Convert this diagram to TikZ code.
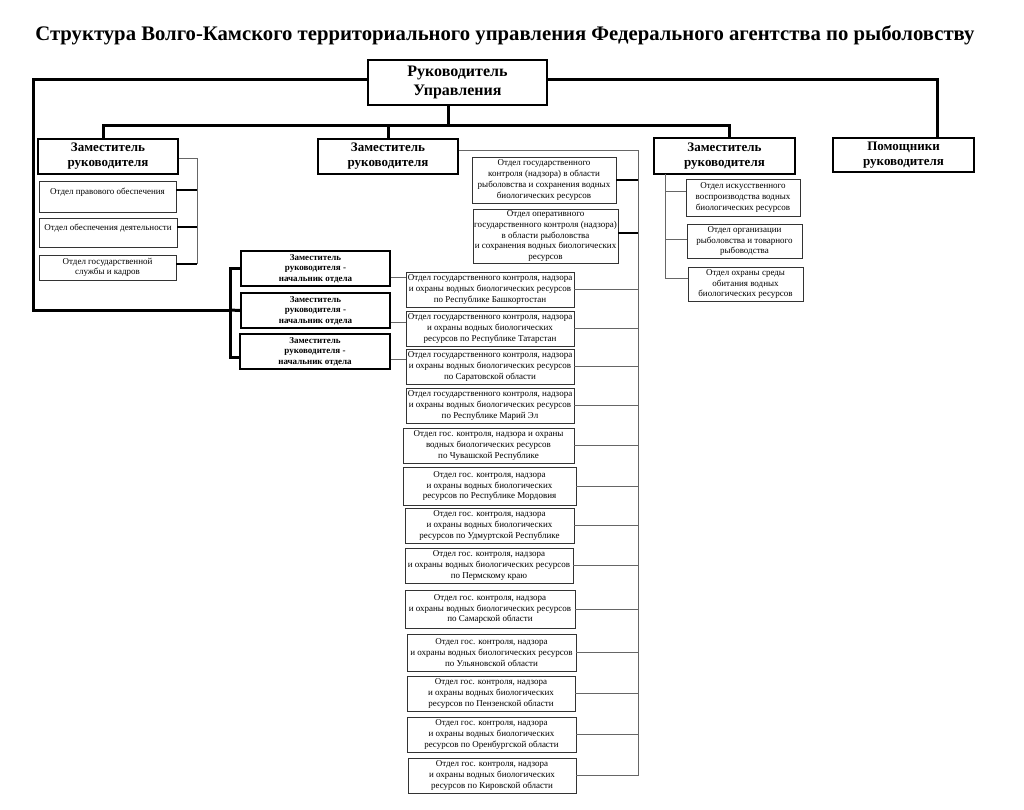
\documentclass[tikz,border=0pt]{standalone}
\usepackage{fontspec}
\setmainfont{Liberation Serif}
\tikzset{
  box/.style={draw, line width=1.8pt, align=center, inner sep=1pt},
  chief/.style={box, font=\bfseries\fontsize{16}{19}\selectfont},
  deputy/.style={box, font=\bfseries\fontsize{13}{15}\selectfont},
  headdep/.style={box, font=\bfseries\fontsize{9}{10.5}\selectfont},
  dept/.style={draw=black!80, line width=0.9pt, align=center, inner sep=1pt,
    font=\fontsize{9}{10.7}\selectfont},
  mainline/.style={line width=3pt},
  thinline/.style={draw=black!60, line width=0.9pt},
  stub/.style={line width=1.4pt}
}
\begin{document}
\begin{tikzpicture}[x=1pt,y=-1pt]
\useasboundingbox[fill=white] (0,0) rectangle (1024,809);
\node[font=\bfseries\fontsize{20.7}{23}\selectfont] (title) at (505,35)
  {Структура Волго-Камского территориального управления Федерального агентства по рыболовству};
% top level
\node[chief, minimum width=179pt, minimum height=45pt] (head) at (457.5,82.5) {Руководитель\\Управления};
\node[deputy, minimum width=140pt, minimum height=35pt] (dep1) at (108,156.5) {Заместитель\\руководителя};
\node[deputy, minimum width=140pt, minimum height=35pt] (dep2) at (388,156.5) {Заместитель\\руководителя};
\node[deputy, minimum width=141pt, minimum height=36pt] (dep3) at (724.5,156) {Заместитель\\руководителя};
\node[deputy, minimum width=141pt, minimum height=34pt] (help) at (903.5,155) {Помощники\\руководителя};
% left deputy
\node[dept, minimum width=137pt, minimum height=31pt] (legal) at (107.5,196.5) {Отдел правового обеспечения\\~};
\node[dept, minimum width=138pt, minimum height=29pt] (activity) at (108,232.5) {Отдел обеспечения деятельности\\~};
\node[dept, minimum width=137pt, minimum height=25pt] (staff) at (107.5,267.5) {Отдел государственной\\службы и кадров};
% heads of departments
\node[headdep, minimum width=149pt, minimum height=35pt] (nach1) at (315.5,268.5) {Заместитель\\руководителя -\\начальник отдела};
\node[headdep, minimum width=149pt, minimum height=35pt] (nach2) at (315.5,310.5) {Заместитель\\руководителя -\\начальник отдела};
\node[headdep, minimum width=150pt, minimum height=35pt] (nach3) at (315,351.5) {Заместитель\\руководителя -\\начальник отдела};
% middle deputy
\node[dept, minimum width=144pt, minimum height=46pt] (control) at (544,180) {Отдел государственного\\контроля (надзора) в области\\рыболовства и сохранения водных\\биологических ресурсов};
\node[dept, minimum width=145pt, minimum height=54pt] (operative) at (545.5,236) {Отдел оперативного\\государственного контроля (надзора)\\в области рыболовства\\и сохранения водных биологических\\ресурсов};
% right deputy
\node[dept, minimum width=114pt, minimum height=37pt] (repro) at (743,197.5) {Отдел искусственного\\воспроизводства водных\\биологических ресурсов};
\node[dept, minimum width=115pt, minimum height=34pt] (fishery) at (744.5,241) {Отдел организации\\рыболовства и товарного\\рыбоводства};
\node[dept, minimum width=115pt, minimum height=34pt] (habitat) at (745.5,284) {Отдел охраны среды\\обитания водных\\биологических ресурсов};
% regional departments
\node[dept, minimum width=168pt, minimum height=35pt] (bash) at (490,289.5) {Отдел государственного контроля, надзора\\и охраны водных биологических ресурсов\\по Республике Башкортостан};
\node[dept, minimum width=168pt, minimum height=35pt] (tatar) at (490,328.5) {Отдел государственного контроля, надзора\\и охраны водных биологических\\ресурсов по Республике Татарстан};
\node[dept, minimum width=168pt, minimum height=35pt] (saratov) at (490,366.5) {Отдел государственного контроля, надзора\\и охраны водных биологических ресурсов\\по Саратовской области};
\node[dept, minimum width=168pt, minimum height=35pt] (mari) at (490,405.5) {Отдел государственного контроля, надзора\\и охраны водных биологических ресурсов\\по Республике Марий Эл};
\node[dept, minimum width=171pt, minimum height=35pt] (chuv) at (488.5,445.5) {Отдел гос. контроля, надзора и охраны\\водных биологических ресурсов\\по Чувашской Республике};
\node[dept, minimum width=173pt, minimum height=38pt] (mord) at (489.5,486) {Отдел гос. контроля, надзора\\и охраны водных биологических\\ресурсов по Республике Мордовия};
\node[dept, minimum width=169pt, minimum height=35pt] (udm) at (489.5,525.5) {Отдел гос. контроля, надзора\\и охраны водных биологических\\ресурсов по Удмуртской Республике};
\node[dept, minimum width=168pt, minimum height=35pt] (perm) at (489,565.5) {Отдел гос. контроля, надзора\\и охраны водных биологических ресурсов\\по Пермскому краю};
\node[dept, minimum width=170pt, minimum height=38pt] (samara) at (490,609) {Отдел гос. контроля, надзора\\и охраны водных биологических ресурсов\\по Самарской области};
\node[dept, minimum width=169pt, minimum height=37pt] (ulyan) at (491.5,652.5) {Отдел гос. контроля, надзора\\и охраны водных биологических ресурсов\\по Ульяновской области};
\node[dept, minimum width=168pt, minimum height=35pt] (penza) at (491,693.5) {Отдел гос. контроля, надзора\\и охраны водных биологических\\ресурсов по Пензенской области};
\node[dept, minimum width=169pt, minimum height=35pt] (orenb) at (491.5,734.5) {Отдел гос. контроля, надзора\\и охраны водных биологических\\ресурсов по Оренбургской области};
\node[dept, minimum width=168pt, minimum height=35pt] (kirov) at (492,775.5) {Отдел гос. контроля, надзора\\и охраны водных биологических\\ресурсов по Кировской области};
% bus points
\coordinate (topbus) at (448,125);
\coordinate (leftcorner) at (33,310);
\coordinate (nachbus) at (230,310);
\coordinate (leftbus) at (197,158);
\coordinate (midbus) at (638,150);
\coordinate (rightbus) at (665,174);
% thick connectors
\draw[mainline] ([yshift=3.5pt]head.west) -| (leftcorner) -- (nachbus);
\draw[mainline] ([yshift=3.5pt]head.east) -| ([xshift=34pt]help.north);
\draw[mainline] (head.south -| topbus) -- (topbus);
\draw[mainline] ([xshift=-5pt]dep1.north) |- (topbus) -| ([xshift=4.5pt]dep3.north);
\draw[mainline] (dep2.north) -- (dep2.north |- topbus);
\draw[mainline] (nach1.west) -| (nachbus) |- ([yshift=-6pt]nach3.west);
\draw[mainline] (nach2.west) -- (nachbus);
% left deputy
\draw[thinline] (dep1.east |- leftbus) -| ([yshift=-9.5pt]staff.north east -| leftbus);
\foreach \d in {legal,activity,staff}
  \draw[stub] ([yshift=-9.5pt]\d.north east) -- ([yshift=-9.5pt]\d.north east -| leftbus);
% middle deputy
\draw[thinline] (dep2.east |- midbus) -| (kirov.east -| midbus);
\draw[stub] (control.east) -- (control.east -| midbus);
\draw[stub] ([yshift=3pt]operative.east) -- ([yshift=3pt]operative.east -| midbus);
\foreach \d in {bash,tatar,saratov,mari,chuv,mord,udm,perm,samara,ulyan,penza,orenb,kirov}
  \draw[thinline] (\d.east) -- (\d.east -| midbus);
% heads of departments to regions
\draw[thinline] ([yshift=-9pt]nach1.east) -- ([yshift=-9pt]nach1.east -| bash.west);
\draw[thinline] ([yshift=-11.5pt]nach2.east) -- ([yshift=-11.5pt]nach2.east -| tatar.west);
\draw[thinline] ([yshift=-7.5pt]nach3.east) -- ([yshift=-7.5pt]nach3.east -| saratov.west);
% right deputy
\draw[thinline] (rightbus) |- ([yshift=6pt]habitat.west);
\draw[thinline] ([yshift=6pt]repro.west) -- ([yshift=6pt]repro.west -| rightbus);
\draw[thinline] ([yshift=2pt]fishery.west) -- ([yshift=2pt]fishery.west -| rightbus);
\end{tikzpicture}
\end{document}
